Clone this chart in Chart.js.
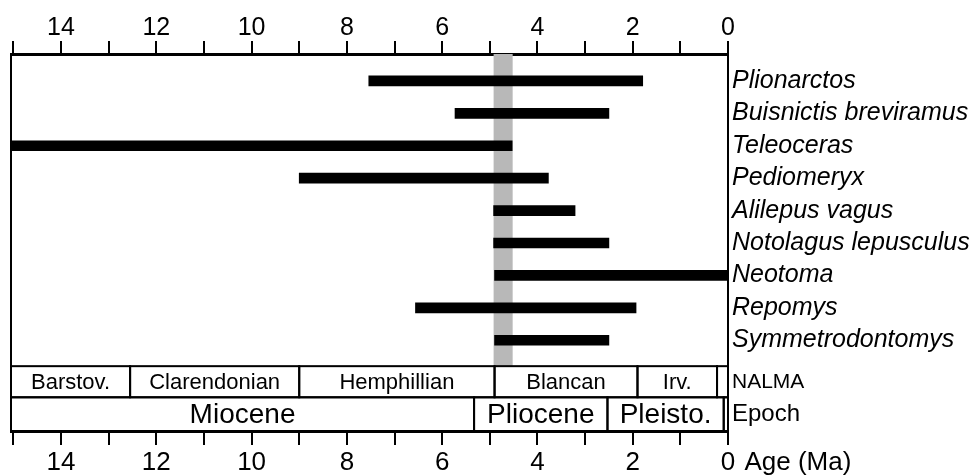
<!DOCTYPE html>
<html>
<head>
<meta charset="utf-8">
<script src="https://cdn.jsdelivr.net/npm/chart.js@4"></script>
<style>
  body { margin: 0; background: #fff; }
  #wrap { width: 975px; height: 475px; }
</style>
</head>
<body>
<div id="wrap"><canvas id="chart"></canvas></div>
<script>
const species = ['Plionarctos', 'Buisnictis breviramus', 'Teleoceras', 'Pediomeryx', 'Alilepus vagus',
    'Notolagus lepusculus', 'Neotoma', 'Repomys', 'Symmetrodontomys'];
const firstAppear = [7.54, 5.73, 15.05, 9.0, 4.92, 4.92, 4.9, 6.56, 4.9];
const lastAppear = [1.79, 2.5, 4.53, 3.77, 3.21, 2.5, 0, 1.93, 2.5];

const nalmaNames = ['Barstov.', 'Clarendonian', 'Hemphillian', 'Blancan', 'Irv.', ''];
const nalmaStart = [15.05, 12.55, 9.0, 4.9, 1.9, 0.23];
const nalmaEnd = [12.55, 9.0, 4.9, 1.9, 0.23, 0];

const epochNames = ['Miocene', 'Pliocene', 'Pleisto.', ''];
const epochStart = [15.05, 5.33, 2.53, 0.09];
const epochEnd = [5.33, 2.53, 0.09, 0];

const ageTicks = [0, 1, 2, 3, 4, 5, 6, 7, 8, 9, 10, 11, 12, 13, 14, 15];
const rowLabels = species.concat(['NALMA', 'Epoch']);
const boundaryBand = [4.92, 4.52];

// y layout (species rows at 1..9, then NALMA and Epoch strips)
const yMin = 0.17, yMax = 11.8;
const speciesBottom = 9.8, nalmaBottom = 10.76;
const rowTicks = species.map((s, i) => i + 1).concat([(speciesBottom + nalmaBottom) / 2, (nalmaBottom + yMax) / 2]);

const FONT = "'Liberation Sans', Arial, sans-serif";
const ctx = document.getElementById('chart').getContext('2d');

function intTicks(scale) {
    scale.ticks = ageTicks.map(v => ({value: v}));
}

const stripsPlugin = {
    id: 'strips',
    beforeDatasetsDraw(chart) {
        const {ctx, scales: {x, y}} = chart;
        ctx.save();
        ctx.fillStyle = '#b8b8b8';
        const l = x.getPixelForValue(boundaryBand[0]);
        const r = x.getPixelForValue(boundaryBand[1]);
        ctx.fillRect(l, y.top, r - l, y.getPixelForValue(speciesBottom) - y.top);
        ctx.restore();
    },
    afterDatasetsDraw(chart) {
        const {ctx, scales: {x, x2, y}, chartArea} = chart;
        ctx.save();
        ctx.strokeStyle = '#000';
        ctx.fillStyle = '#000';
        ctx.lineWidth = 2;
        ctx.textAlign = 'center';
        ctx.textBaseline = 'middle';

        function strip(names, starts, ends, top, bottom, size) {
            const t = y.getPixelForValue(top), b = y.getPixelForValue(bottom);
            ctx.font = size + 'px ' + FONT;
            names.forEach((n, i) => {
                const l = x.getPixelForValue(starts[i]);
                const r = x.getPixelForValue(ends[i]);
                ctx.strokeRect(l, t, r - l, b - t);
                if (n) ctx.fillText(n, (l + r) / 2, (t + b) / 2 + 1);
            });
        }
        strip(nalmaNames, nalmaStart, nalmaEnd, speciesBottom, nalmaBottom, 22);
        strip(epochNames, epochStart, epochEnd, nalmaBottom, yMax, 28);

        // left frame
        ctx.beginPath();
        ctx.moveTo(chartArea.left, chartArea.top);
        ctx.lineTo(chartArea.left, chartArea.bottom);
        ctx.stroke();

        // axis name after the 0 tick
        ctx.font = '26px ' + FONT;
        ctx.textAlign = 'left';
        const px0 = x2.getPixelForValue(0) + ctx.measureText('0').width / 2 + ctx.measureText(' ').width;
        ctx.fillText('Age (Ma)', px0 + 2, 463);
        ctx.restore();
    }
};

const chart = new Chart(ctx, {
    type: 'bar',
    data: {
        datasets: [{
            label: 'Range',
            data: species.map((s, i) => ({x: [firstAppear[i], lastAppear[i]], y: i + 1})),
            backgroundColor: '#000',
            borderWidth: 0,
            barThickness: 10,
            xAxisID: 'x',
            yAxisID: 'y'
        }]
    },
    options: {
        indexAxis: 'y',
        responsive: true,
        maintainAspectRatio: false,
        animation: false,
        layout: {padding: {left: 11, top: 0, right: 0, bottom: 0}},
        plugins: {
            legend: {display: false},
            tooltip: {enabled: false}
        },
        scales: {
            x: {
                type: 'linear',
                position: 'top',
                reverse: true,
                min: 0,
                max: 15.05,
                afterBuildTicks: intTicks,
                afterFit: s => { s.height = 54; },
                grid: {drawOnChartArea: false, tickLength: 13, lineWidth: 2, color: '#000'},
                border: {display: true, color: '#000', width: 3},
                ticks: {
                    padding: -2,
                    color: '#000',
                    font: {family: FONT, size: 25},
                    maxRotation: 0,
                    autoSkip: false,
                    callback: v => (v % 2 === 0 ? String(v) : '')
                }
            },
            x2: {
                type: 'linear',
                position: 'bottom',
                reverse: true,
                min: 0,
                max: 15.05,
                afterBuildTicks: intTicks,
                afterFit: s => { s.height = 44; },
                grid: {drawOnChartArea: false, tickLength: 14, lineWidth: 2, color: '#000'},
                border: {display: true, color: '#000', width: 3},
                ticks: {
                    padding: 2,
                    color: '#000',
                    font: {family: FONT, size: 26},
                    maxRotation: 0,
                    autoSkip: false,
                    callback: v => (v % 2 === 0 ? String(v) : '')
                }
            },
            y: {
                type: 'linear',
                position: 'right',
                reverse: true,
                offset: false,
                min: yMin,
                max: yMax,
                afterBuildTicks: s => { s.ticks = rowTicks.map(v => ({value: v})); },
                afterFit: s => { s.width = 247; },
                grid: {drawOnChartArea: false, drawTicks: false, offset: false},
                border: {display: true, color: '#000', width: 2},
                ticks: {
                    padding: 4,
                    color: '#000',
                    autoSkip: false,
                    font: c => (c.index < species.length
                        ? {family: FONT, size: 25, style: 'italic'}
                        : {family: FONT, size: c.index === species.length ? 21 : 24}),
                    callback: (v, i) => rowLabels[i]
                }
            }
        }
    },
    plugins: [stripsPlugin]
});
</script>
</body>
</html>
